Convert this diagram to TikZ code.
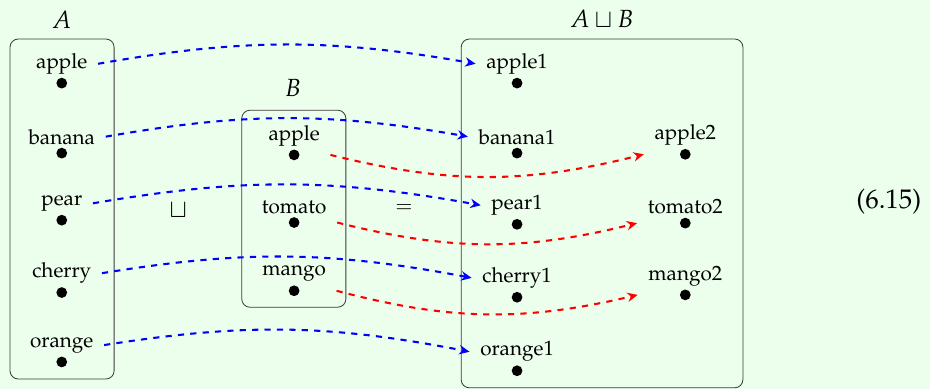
\documentclass[tikz,border=0pt]{standalone}
\usepackage[T1]{fontenc}
\usepackage{mathpazo}
\usetikzlibrary{arrows.meta,positioning}
\definecolor{pagegreen}{RGB}{236,254,236}
\definecolor{boxgray}{RGB}{60,60,60}

\begin{document}
\begin{tikzpicture}[>={Stealth[length=5pt,width=4.5pt]},
  dotnode/.style={circle, fill=black, inner sep=0pt, minimum size=5.2pt},
  elt/.style={above=-2pt of #1, inner xsep=5pt},
  setbox/.style={draw=boxgray, rounded corners=4pt},
  inj/.style={->, dashed, line width=1pt, blue},
  injtwo/.style={->, dashed, line width=1pt, red}]
\fill[pagegreen] (0,0) rectangle (15.81,6.613);
\useasboundingbox (0,0) rectangle (15.81,6.613);
% the set A
\draw[setbox] (0.17,0.17) rectangle (1.94,5.95);
\node[font=\large] (labA) at (1.05,6.28) {$A$};
\foreach \i/\y/\n in {1/5.20/apple, 2/4.01/banana, 3/2.87/pear, 4/1.64/cherry, 5/0.46/orange}{
  \node[dotnode] (a\i) at (1.05,\y) {};
  \node[elt=a\i] (la\i) {\n};
}
% the set B
\draw[setbox] (4.11,1.39) rectangle (5.88,4.74);
\node[font=\large] (labB) at (4.98,5.12) {$B$};
\foreach \i/\y/\n in {1/3.98/apple, 2/2.83/tomato, 3/1.67/mango}{
  \node[dotnode] (b\i) at (5.0,\y) {};
  \node[elt=b\i] (lb\i) {\n};
}
% the disjoint union
\draw[setbox] (7.84,0.02) rectangle (12.63,5.95);
\node[font=\large] (labU) at (10.23,6.29) {$A\sqcup B$};
\foreach \i/\y/\n in {1/5.20/apple1, 2/4.01/banana1, 3/2.80/pear1, 4/1.56/cherry1, 5/0.31/orange1}{
  \node[dotnode] (u\i) at (8.79,\y) {};
  \node[elt=u\i] (lu\i) {\n};
}
\foreach \i/\y/\n in {1/3.99/apple2, 2/2.82/tomato2, 3/1.60/mango2}{
  \node[dotnode] (v\i) at (11.65,\y) {};
  \node[elt=v\i] (lv\i) {\n};
}
\node[font=\large] (cup) at (3.03,3.04) {$\sqcup$};
\node (eq) at (6.87,3.06) {$=$};
\node[font=\fontsize{13}{16}\selectfont] (num) at (15.11,3.19) {(6.15)};
% inclusions
\foreach \i in {1,...,5}{ \draw[inj] (la\i.east) to[bend left=10] (lu\i.west); }
\foreach \i in {1,2,3}{ \draw[injtwo] (lb\i.east |- b\i) to[bend right=14] (lv\i.west |- v\i); }
\end{tikzpicture}
\end{document}
